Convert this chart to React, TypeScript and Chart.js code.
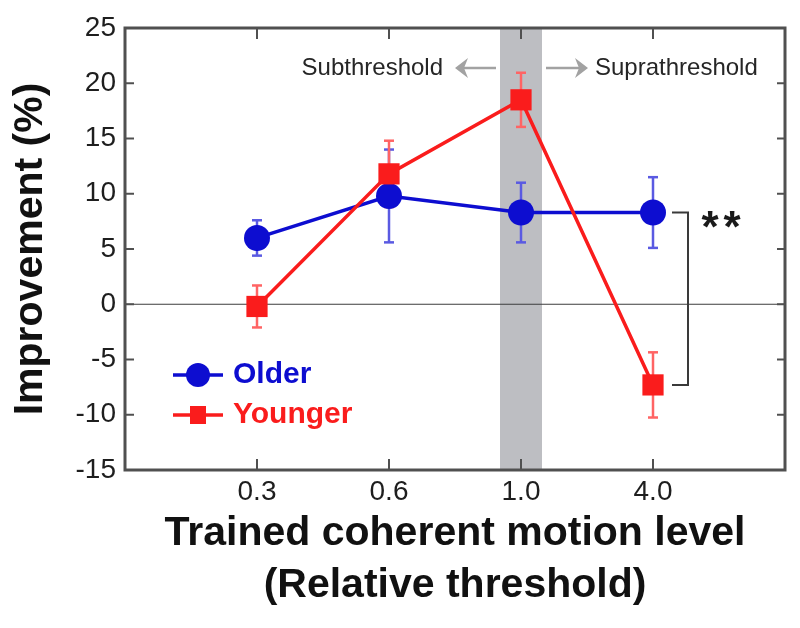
import React, { useEffect, useRef } from 'react';
import { Chart, registerables } from 'chart.js';

Chart.register(...registerables);

// ---- data ----
const categories = ['0.3', '0.6', '1.0', '4.0'];
const categoryPositions = [1, 2, 3, 4];
const olderMeans = [6.0, 9.8, 8.3, 8.3];
const olderErrors = [1.6, 4.2, 2.7, 3.2];
const youngerMeans = [-0.2, 11.8, 18.5, -7.3];
const youngerErrors = [1.9, 3.0, 2.45, 2.95];
const yTicks = [-15, -10, -5, 0, 5, 10, 15, 20, 25];
const seriesNames = ['Older', 'Younger'];
const thresholdCategory = '1.0';
const regionLabels = ['Subthreshold', 'Suprathreshold'];
const significanceMark = '*';
const significanceCount = 2;

// ---- styles ----
const FONT = "'Liberation Sans', Arial, Helvetica, sans-serif";
const BLUE = '#0d0dd0';
const RED = '#fa1c1c';
const BLUE_ERR = '#5a5ae2';
const RED_ERR = '#ff6464';
const AXIS = '#505050';

function seg(ctx: CanvasRenderingContext2D, x1: number, y1: number, x2: number, y2: number) {
  ctx.beginPath();
  ctx.moveTo(x1, y1);
  ctx.lineTo(x2, y2);
  ctx.stroke();
}

function arrowHead(ctx: CanvasRenderingContext2D, tipX: number, y: number, dir: number) {
  ctx.beginPath();
  ctx.moveTo(tipX, y);
  ctx.lineTo(tipX - dir * 13, y - 10);
  ctx.lineTo(tipX - dir * 9, y);
  ctx.lineTo(tipX - dir * 13, y + 10);
  ctx.closePath();
  ctx.fill();
}

const decorPlugin = {
  id: 'decor',
  beforeDatasetsDraw(chart: any) {
    const { ctx, chartArea: a, scales } = chart;
    const x = scales.x;
    const y = scales.y;
    ctx.save();
    // threshold band
    const cx = x.getPixelForValue(categoryPositions[categories.indexOf(thresholdCategory)]);
    const half = 21;
    ctx.fillStyle = '#bdbec2';
    ctx.fillRect(cx - half, a.top, half * 2, a.bottom - a.top);
    // zero line
    const y0 = y.getPixelForValue(0);
    ctx.strokeStyle = '#3c3c3c';
    ctx.lineWidth = 1.2;
    seg(ctx, a.left, y0, a.right, y0);
    // region labels and arrows
    const ty = a.top + 40;
    ctx.strokeStyle = '#a2a2a2';
    ctx.fillStyle = '#a2a2a2';
    ctx.lineWidth = 2.5;
    seg(ctx, cx - 25, ty, cx - 58, ty);
    arrowHead(ctx, cx - 66, ty, -1);
    seg(ctx, cx + 25, ty, cx + 58, ty);
    arrowHead(ctx, cx + 67, ty, 1);
    ctx.font = `24px ${FONT}`;
    ctx.fillStyle = '#262626';
    ctx.textBaseline = 'middle';
    ctx.textAlign = 'right';
    ctx.fillText(regionLabels[0], cx - 78, ty);
    ctx.textAlign = 'left';
    ctx.fillText(regionLabels[1], cx + 74, ty);
    // error bars
    const series = [
      { means: olderMeans, errs: olderErrors, color: BLUE_ERR },
      { means: youngerMeans, errs: youngerErrors, color: RED_ERR },
    ];
    ctx.lineWidth = 2.5;
    series.forEach((s) => {
      ctx.strokeStyle = s.color;
      s.means.forEach((m, i) => {
        const px = x.getPixelForValue(categoryPositions[i]);
        const yt = y.getPixelForValue(m + s.errs[i]);
        const yb = y.getPixelForValue(m - s.errs[i]);
        seg(ctx, px, yt, px, yb);
        seg(ctx, px - 5, yt, px + 5, yt);
        seg(ctx, px - 5, yb, px + 5, yb);
      });
    });
    ctx.restore();
  },
  afterDatasetsDraw(chart: any) {
    const { ctx, scales } = chart;
    const x = scales.x;
    const y = scales.y;
    const last = categoryPositions.length - 1;
    const px = x.getPixelForValue(categoryPositions[last]);
    const yA = y.getPixelForValue(olderMeans[last]);
    const yB = y.getPixelForValue(youngerMeans[last]);
    ctx.save();
    ctx.strokeStyle = '#3a3a3a';
    ctx.lineWidth = 2;
    ctx.beginPath();
    ctx.moveTo(px + 19, yA);
    ctx.lineTo(px + 35, yA);
    ctx.lineTo(px + 35, yB);
    ctx.lineTo(px + 19, yB);
    ctx.stroke();
    ctx.fillStyle = '#1a1a1a';
    ctx.font = `bold 44px ${FONT}`;
    ctx.textAlign = 'center';
    ctx.textBaseline = 'alphabetic';
    for (let k = 0; k < significanceCount; k++) {
      ctx.fillText(significanceMark, px + 57 + k * 22, yA + 29);
    }
    ctx.restore();
  },
  afterDraw(chart: any) {
    const { ctx, chartArea: a, scales } = chart;
    const x = scales.x;
    const y = scales.y;
    ctx.save();
    // frame
    ctx.strokeStyle = AXIS;
    ctx.lineWidth = 3;
    ctx.strokeRect(a.left, a.top, a.right - a.left, a.bottom - a.top);
    // inward ticks
    ctx.lineWidth = 2;
    yTicks.forEach((v) => {
      const py = y.getPixelForValue(v);
      seg(ctx, a.left, py, a.left + 9, py);
      seg(ctx, a.right, py, a.right - 8, py);
    });
    categoryPositions.forEach((v) => {
      const px = x.getPixelForValue(v);
      seg(ctx, px, a.bottom, px, a.bottom - 11);
      seg(ctx, px, a.top, px, a.top + 11);
    });
    // legend
    const entries = [
      { name: seriesNames[0], color: BLUE, shape: 'circle', yOff: 95 },
      { name: seriesNames[1], color: RED, shape: 'rect', yOff: 55 },
    ];
    entries.forEach((e) => {
      const ly = a.bottom - e.yOff;
      const lx = a.left + 48;
      ctx.strokeStyle = e.color;
      ctx.fillStyle = e.color;
      ctx.lineWidth = 3.5;
      seg(ctx, lx, ly, lx + 50, ly);
      if (e.shape === 'circle') {
        ctx.beginPath();
        ctx.arc(lx + 25, ly, 12, 0, Math.PI * 2);
        ctx.fill();
      } else {
        ctx.fillRect(lx + 25 - 8, ly - 9, 16, 18);
      }
      ctx.font = `bold 30px ${FONT}`;
      ctx.textAlign = 'left';
      ctx.textBaseline = 'middle';
      ctx.fillText(e.name, lx + 60, ly);
    });
    ctx.restore();
  },
};

export default function App() {
  const canvasRef = useRef<HTMLCanvasElement | null>(null);

  useEffect(() => {
    const canvas = canvasRef.current;
    if (!canvas) return;
    const chart = new Chart(canvas, {
      type: 'line',
      data: {
        datasets: [
          {
            label: seriesNames[1],
            data: youngerMeans.map((v, i) => ({ x: categoryPositions[i], y: v })),
            borderColor: RED,
            backgroundColor: RED,
            borderWidth: 3.5,
            pointStyle: 'rect',
            pointRadius: 15,
            pointBorderWidth: 0,
            pointBackgroundColor: RED,
            tension: 0,
          },
          {
            label: seriesNames[0],
            data: olderMeans.map((v, i) => ({ x: categoryPositions[i], y: v })),
            borderColor: BLUE,
            backgroundColor: BLUE,
            borderWidth: 3.5,
            pointStyle: 'circle',
            pointRadius: 13,
            pointBorderWidth: 0,
            pointBackgroundColor: BLUE,
            tension: 0,
          },
        ],
      },
      options: {
        responsive: false,
        animation: false,
        events: [],
        layout: { padding: { top: 28, right: 13, left: 0, bottom: 0 } },
        plugins: { legend: { display: false }, tooltip: { enabled: false } },
        scales: {
          x: {
            type: 'linear',
            min: 0,
            max: 5,
            grid: { display: false, drawTicks: false },
            border: { display: false },
            afterBuildTicks: (s: any) => {
              s.ticks = categoryPositions.map((v) => ({ value: v }));
            },
            afterFit: (s: any) => {
              s.height = 158;
            },
            ticks: {
              autoSkip: false,
              maxRotation: 0,
              padding: 5,
              color: '#1e1e1e',
              font: { family: FONT, size: 28 },
              callback: (v: any) => {
                const i = categoryPositions.indexOf(Number(v));
                return i >= 0 ? categories[i] : '';
              },
            },
            title: {
              display: true,
              text: ['Trained coherent motion level', '(Relative threshold)'],
              color: '#111',
              font: { family: FONT, size: 41, weight: 'bold', lineHeight: 1.25 },
              padding: { top: 0, bottom: 17 },
            },
          },
          y: {
            min: -15,
            max: 25,
            grid: { display: false, drawTicks: false },
            border: { display: false },
            afterBuildTicks: (s: any) => {
              s.ticks = yTicks.map((v) => ({ value: v }));
            },
            afterFit: (s: any) => {
              s.width = 125;
            },
            ticks: {
              padding: 9,
              color: '#1e1e1e',
              font: { family: FONT, size: 28 },
            },
            title: {
              display: true,
              text: 'Improvement (%)',
              color: '#111',
              font: { family: FONT, size: 41, weight: 'bold' },
              padding: { top: 6, bottom: 0 },
            },
          },
        },
      },
      plugins: [decorPlugin],
    } as any);
    return () => chart.destroy();
  }, []);

  return (
    <div style={{ position: 'fixed', left: 0, top: 0, width: 800, height: 628, background: '#fff' }}>
      <canvas ref={canvasRef} width={800} height={628} style={{ display: 'block' }} />
    </div>
  );
}
